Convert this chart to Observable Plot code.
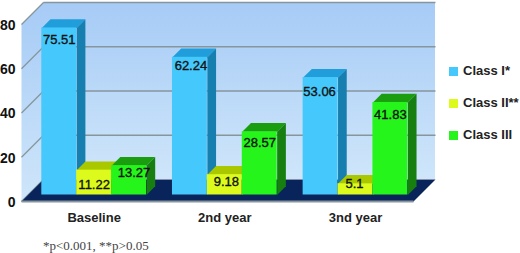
<!DOCTYPE html>
<html><head><meta charset="utf-8">
<script src="https://cdn.jsdelivr.net/npm/d3@7"></script>
<script src="https://cdn.jsdelivr.net/npm/@observablehq/plot@0.6"></script>
<style>
html,body{margin:0;padding:0;background:#fff;width:520px;height:253px;overflow:hidden}
#wrap{position:relative;width:520px;height:253px}
svg{display:block;overflow:visible}
.lg{position:absolute;left:449px;font:bold 13px "Liberation Sans",sans-serif;color:#222;white-space:nowrap;line-height:16px}
.lg i{display:inline-block;width:9px;height:9px;margin-right:5px;vertical-align:-0.5px}
#note{position:absolute;left:43px;top:238px;font:13px "Liberation Serif",serif;color:#444;white-space:nowrap}
</style></head><body><div id="wrap"></div>
<script>
const categories = ["Baseline", "2nd year", "3nd year"];
const seriesNames = ["Class I*", "Class II**", "Class III"];
const classI = [75.51, 62.24, 53.06];
const classII = [11.22, 9.18, 5.1];
const classIII = [13.27, 28.57, 41.83];
const yTicks = [0, 20, 40, 60, 80];
const footnote = "*p<0.001, **p>0.05";

// faces: front, top, side
const palette = [
  ["#45c8fb", "#1f9edb", "#167fb0"],
  ["#dcfb1c", "#a9c800", "#8fa600"],
  ["#25f51b", "#1a9e10", "#167f10"]
];
const series = [classI, classII, classIII];

// layout (pixels → scale units)
const W = 520, H = 253, mL = 21, mR = 107, mT = 24, mB = 52;
const ux = 3 / (W - mL - mR), uy = 80 / (H - mT - mB);
const wallD = 22, barD = 8.7, barDx = 0, barDy = -6.5;
const barStart = 20.3 * ux, barW = 34.9 * ux;
const dX = barD * ux, dY = barD * uy;
const wallX = wallD * ux, wallY = wallD * uy;

// label drop below bar top [px], and sideways nudge
const labelDrop = [[12, 9, 14], [15, 7, 0], [7, 11.5, 12]];
const labelNudge = [[0, 1, -1], [0, 1.5, -1], [5, 0, 0]];

const poly = (pts, id, fill) => pts.map(([x, y]) => ({x, y, id, fill}));

const barMarks = series.flatMap((vals, s) => {
  const rows = vals.map((v, g) => ({g, v, x0: g + barStart + s * barW, x1: g + barStart + (s + 1) * barW}));
  const top = rows.flatMap(r => poly([[r.x0, r.v], [r.x1, r.v], [r.x1 + dX, r.v + dY], [r.x0 + dX, r.v + dY]], "t" + s + r.g, palette[s][1]));
  const side = rows.flatMap(r => poly([[r.x1, 0], [r.x1 + dX, dY], [r.x1 + dX, r.v + dY], [r.x1, r.v]], "s" + s + r.g, palette[s][2]));
  return [
    Plot.line(top, {x: "x", y: "y", z: "id", fill: "fill", stroke: null, dy: barDy}),
    Plot.line(side, {x: "x", y: "y", z: "id", fill: "fill", stroke: null, dy: barDy}),
    Plot.rect(rows, {x1: "x0", x2: "x1", y1: 0, y2: "v", fill: palette[s][0], dy: barDy})
  ];
});

const labelRows = series.flatMap((vals, s) => vals.map((v, g) => ({
  label: String(v),
  x: g + barStart + (s + 0.5) * barW + labelNudge[s][g] * ux,
  y: v - labelDrop[s][g] * uy
})));

const defs = () => {
  const ns = "http://www.w3.org/2000/svg";
  const d = document.createElementNS(ns, "defs");
  d.innerHTML = `<linearGradient id="wallG" x1="0" y1="0" x2="0" y2="1">
    <stop offset="0" stop-color="#a6cbf6"/><stop offset="1" stop-color="#cfe6fa"/></linearGradient>`;
  return d;
};

const grid = "#87959c";
const chart = Plot.plot({
  width: W, height: H, marginLeft: mL, marginRight: mR, marginTop: mT, marginBottom: mB,
  x: {domain: [0, 3], axis: null},
  y: {domain: [0, 80], axis: null},
  color: {type: "identity"},
  style: {background: "transparent", overflow: "visible"},
  marks: [
    defs,
    // left wall
    Plot.line(poly([[0, 0], [wallX, wallY], [wallX, 80 + wallY], [0, 80]], "lw", "url(#wallG)"),
      {x: "x", y: "y", z: "id", fill: "fill", stroke: null}),
    // back wall
    Plot.rect([0], {x1: wallX, x2: 3 + wallX, y1: wallY, y2: 80 + wallY, fill: "url(#wallG)"}),
    // back grid lines
    Plot.link(yTicks.slice(1), {x1: wallX, x2: 3 + wallX, y1: t => t + wallY, y2: t => t + wallY, stroke: grid, strokeWidth: 1.5}),
    // left-wall grid lines
    Plot.link(yTicks, {x1: 0, x2: wallX, y1: t => t, y2: t => t + wallY, stroke: grid, strokeWidth: 1.3}),
    // floor
    Plot.line(poly([[0, 0], [3, 0], [3 + wallX, wallY], [wallX, wallY]], "fl", "#08245a"),
      {x: "x", y: "y", z: "id", fill: "fill", stroke: null}),
    Plot.link([0], {x1: 0, x2: 3, y1: 0, y2: 0, stroke: grid, strokeWidth: 2}),
    ...barMarks,
    Plot.text(labelRows, {x: "x", y: "y", text: "label", dy: barDy, fontSize: 13, fill: "#111",
      fontFamily: "Liberation Sans", stroke: "#111", strokeWidth: 0.35}),
    Plot.axisY({ticks: yTicks, tickSize: 0, tickPadding: 6, fontSize: 14, fontWeight: "bold", dy: 1,
      fontFamily: "Liberation Sans", label: null, color: "#111"}),
    Plot.text(categories, {x: (d, i) => i + barStart + 1.5 * barW, y: 0, text: d => d, dy: 16,
      fontSize: 13, fontWeight: "bold", fontFamily: "Liberation Sans", fill: "#222"})
  ]
});
const wrap = document.getElementById("wrap");
wrap.appendChild(chart);

seriesNames.forEach((n, i) => {
  const e = document.createElement("div");
  e.className = "lg";
  e.style.top = (63 + i * 32) + "px";
  const sw = document.createElement("i");
  sw.style.background = palette[i][0];
  e.appendChild(sw);
  e.appendChild(document.createTextNode(n));
  wrap.appendChild(e);
});
const note = document.createElement("div");
note.id = "note";
note.textContent = footnote;
wrap.appendChild(note);
</script></body></html>
